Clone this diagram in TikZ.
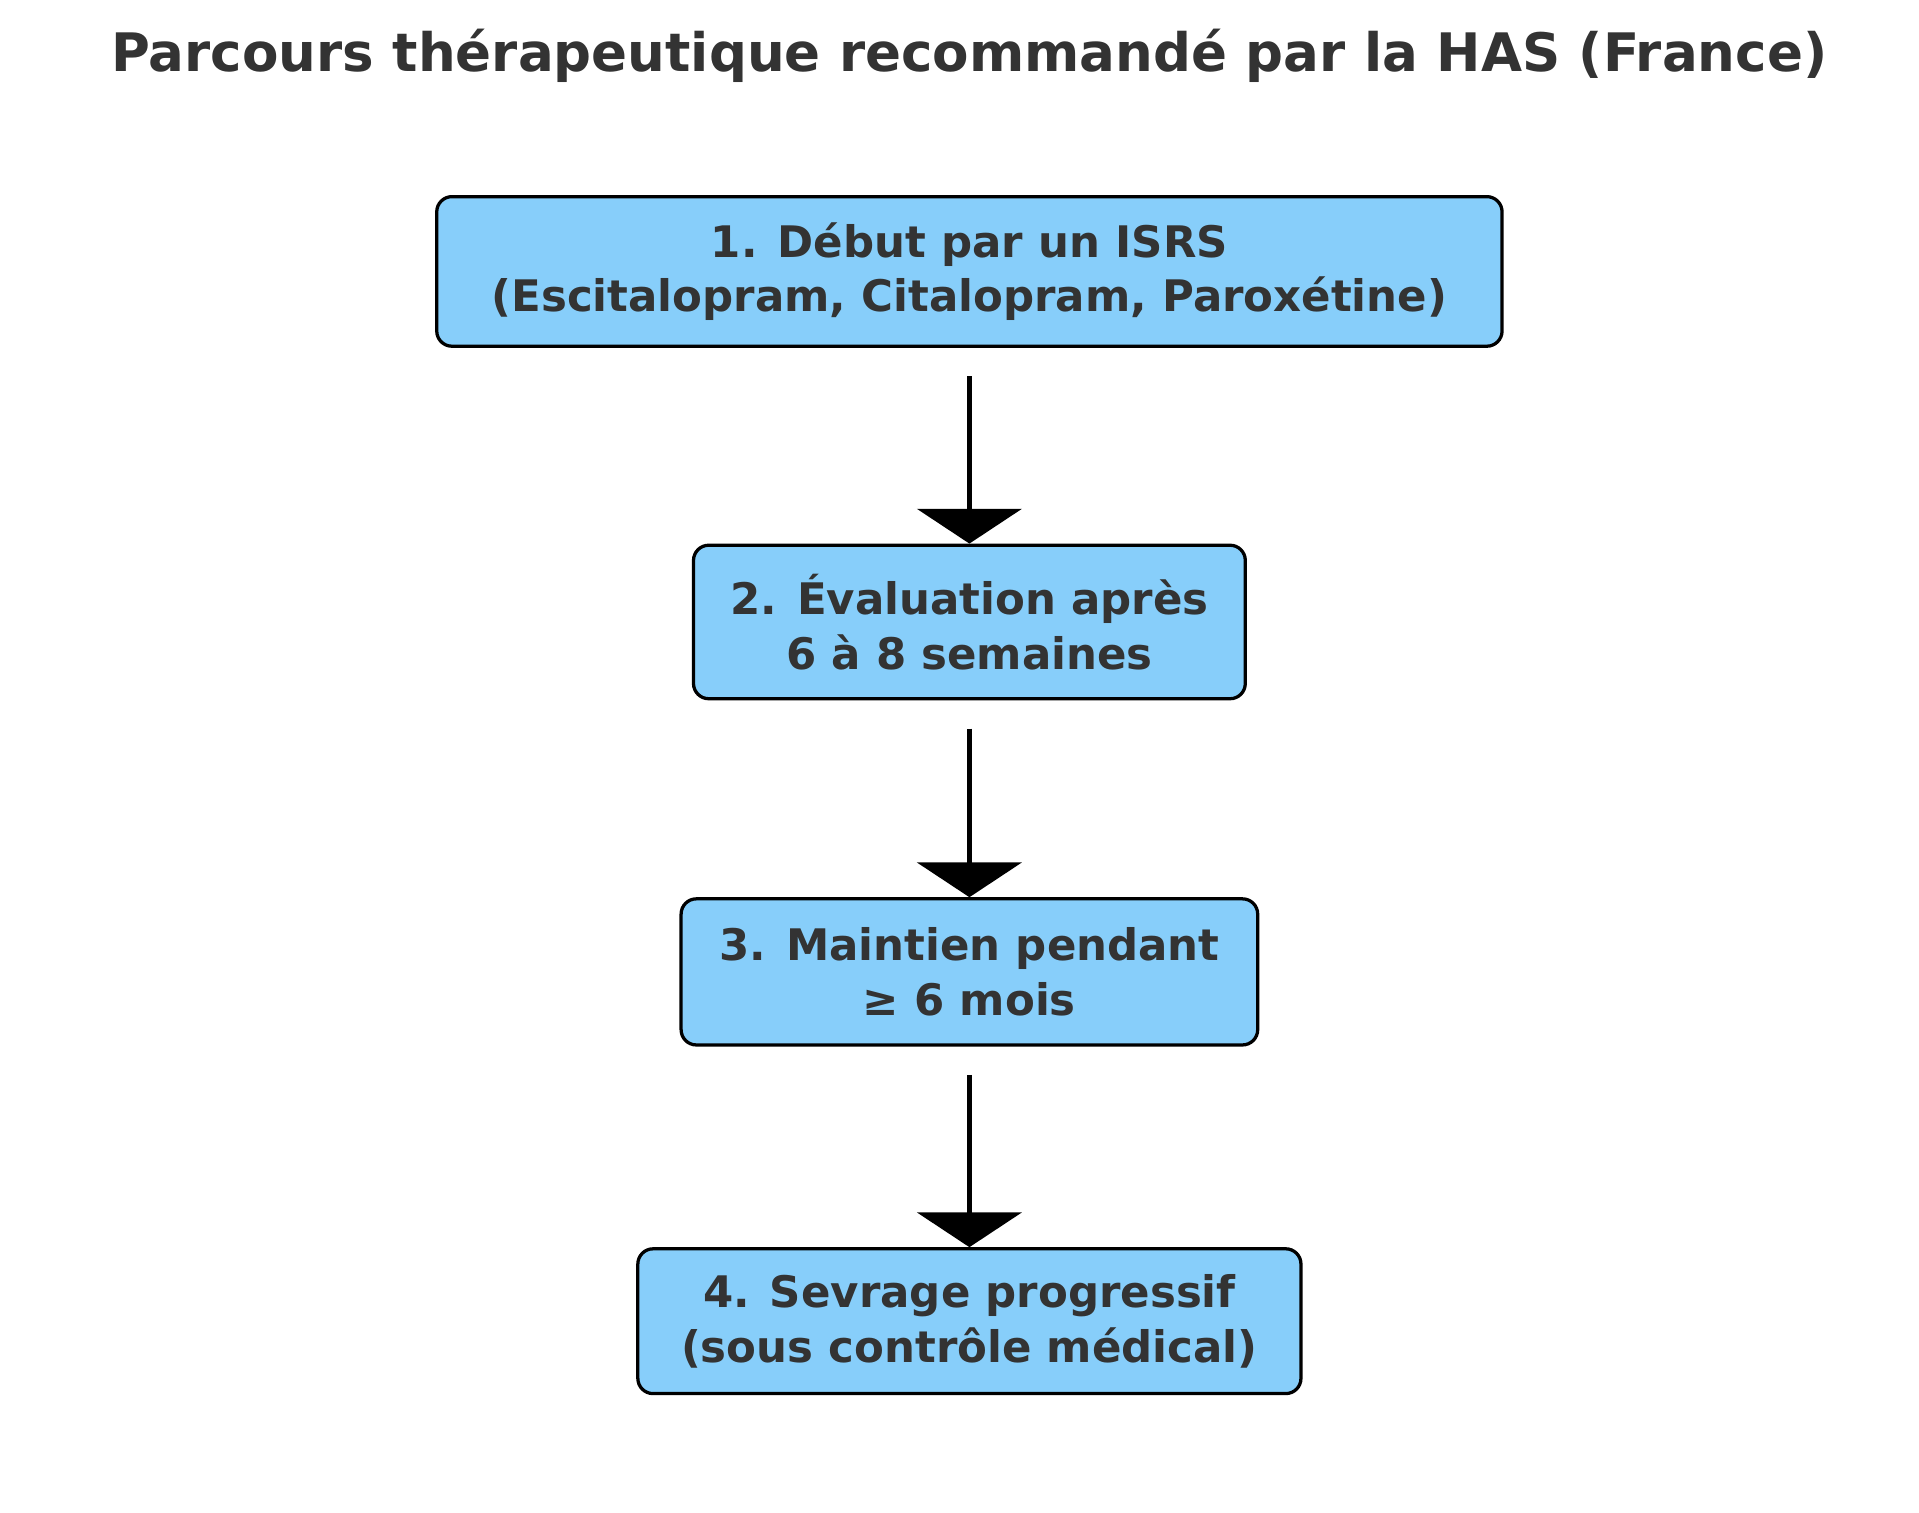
\documentclass[tikz,border=0pt]{standalone}
\usepackage{fontspec}
\setmainfont{DejaVu Sans}
\usetikzlibrary{arrows.meta}
\definecolor{boxblue}{HTML}{87CEFA}
\definecolor{txtgray}{HTML}{333333}

\begin{document}
\begin{tikzpicture}[x=0.01cm,y=-0.01cm,
    stepbox/.style={draw=black, line width=0.75pt, fill=boxblue, rounded corners=3.5pt,
        text=txtgray, font=\bfseries\fontsize{10}{12.5}\selectfont, align=center, inner sep=0pt},
    flow/.style={line width=1.1pt, -{Triangle[width=24pt,length=8pt]}, shorten <=23\pgflinewidth*0+6.5pt}]
    \useasboundingbox (0,0) rectangle (1552,1223);
    \node[text=txtgray, font=\bfseries\fontsize{12.2}{14}\selectfont] (title) at (784,45)
        {Parcours thérapeutique recommandé par la HAS (France)};
    \node[stepbox, minimum width=862\pgflinewidth*0+245pt, minimum height=34.4pt] (s1) at (784,219.5)
        {1. Début par un ISRS\\(Escitalopram, Citalopram, Paroxétine)};
    \node[stepbox, minimum width=126.9pt, minimum height=35.3pt] (s2) at (784,503)
        {2. Évaluation après\\6 à 8 semaines};
    \node[stepbox, minimum width=132.6pt, minimum height=33.6pt] (s3) at (784,786)
        {3. Maintien pendant\\≥ 6 mois};
    \node[stepbox, minimum width=152.5pt, minimum height=33.3pt] (s4) at (784,1068.5)
        {4. Sevrage progressif\\(sous contrôle médical)};
    %\draw[very thin,gray] (0,0) grid[step=100] (1552,1223);
    \draw[flow] (s1) -- (s2);
    \draw[flow] (s2) -- (s3);
    \draw[flow] (s3) -- (s4);
\end{tikzpicture}
\end{document}
